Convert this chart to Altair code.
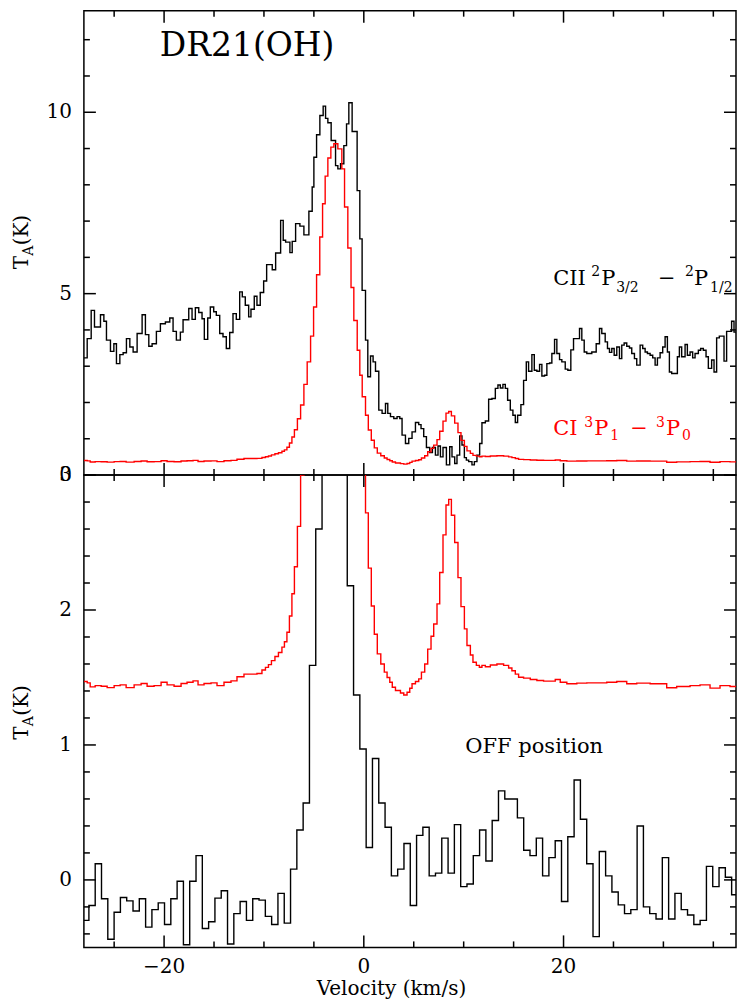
import altair as alt
import pandas as pd

# ---------------- data ----------------
# CII 2P3/2-2P1/2 spectrum (top panel, black): channel left edges (km/s) and T_A (K)
CII_V = [-28.03, -27.70, -27.30, -26.97, -26.37, -26.03, -25.77, -25.37, -25.03, -24.77,
         -24.43, -24.10, -23.77, -23.43, -23.10, -22.70, -22.20, -21.87, -21.53, -21.20,
         -20.77, -20.37, -19.87, -19.43, -19.10, -18.77, -18.37, -18.10, -17.53, -17.20,
         -16.87, -16.53, -16.20, -15.97, -15.63, -15.37, -15.03, -14.77, -14.43, -14.10,
         -13.77, -13.43, -13.10, -12.77, -12.43, -12.17, -11.87, -11.53, -11.30, -10.97,
         -10.70, -10.37, -10.03, -9.73, -9.17, -8.83, -8.33, -8.07, -7.83, -7.40,
         -7.17, -6.83, -6.40, -6.00, -5.50, -5.17, -5.00, -4.73, -4.40,
         -4.07, -3.83, -3.60, -3.27, -2.83, -2.60, -2.33, -2.00, -1.73, -1.50,
         -1.17, -0.67, -0.40, -0.17, 0.17, 0.40, 0.67, 0.93, 1.17, 1.50,
         1.83, 2.17, 2.40, 2.67, 3.00, 3.33, 3.60, 3.83, 4.17, 4.50,
         4.83, 5.17, 5.50, 5.73, 6.00, 6.27, 6.60, 6.87, 7.17, 7.43,
         7.67, 7.93, 8.27, 8.60, 8.83, 9.10, 9.33, 9.60, 9.83, 10.07,
         10.27, 10.50, 10.83, 11.07, 11.33, 11.60, 11.83, 12.17, 12.50, 12.83,
         13.17, 13.43, 13.67, 13.93, 14.17, 14.40, 14.67, 14.93, 15.17, 15.40,
         15.73, 16.00, 16.27, 16.50, 16.83, 17.07, 17.33, 17.60, 17.83, 18.10,
         18.33, 18.60, 18.83, 19.10, 19.33, 19.60, 19.83, 20.17, 20.43, 20.73,
         21.00, 21.60, 21.83, 22.07, 22.33, 22.83, 23.27, 23.60, 23.83, 24.17,
         24.40, 24.60, 24.83, 25.07, 25.33, 25.60, 25.83, 26.07, 26.33, 26.60,
         26.83, 27.10, 27.33, 27.67, 27.93, 28.17, 28.40, 28.67, 28.93, 29.17,
         29.40, 29.67, 29.93, 30.17, 30.40, 30.60, 30.83, 31.40, 31.60, 31.83,
         32.17, 32.40, 32.67, 32.93, 33.17, 33.50, 33.73, 34.00, 34.27, 34.50,
         34.83, 35.07, 35.33, 35.60, 36.07, 36.33, 36.83, 37.07, 37.33]
CII_T = [3.23, 3.76, 4.54, 4.08, 4.42, 4.24, 3.72, 3.41, 3.62, 3.07,
         3.32, 3.37, 3.76, 3.53, 3.39, 3.90, 4.42, 3.87, 3.55, 3.62,
         3.96, 4.17, 4.22, 4.33, 3.96, 3.72, 3.94, 4.28, 4.59, 4.29,
         4.61, 4.48, 4.31, 3.74, 4.33, 4.63, 4.50, 4.40, 3.90, 3.81,
         3.49, 3.93, 4.45, 4.29, 5.05, 4.91, 4.68, 4.36, 4.57, 4.93,
         4.68, 5.03, 5.35, 5.80, 5.66, 6.12, 7.02, 6.47, 6.42, 6.13,
         6.44, 6.93, 6.86, 6.62, 7.27, 7.94, 8.76, 9.38, 9.91,
         10.17, 9.83, 9.71, 9.22, 8.53, 8.44, 8.58, 9.08, 9.68, 10.26,
         9.47, 7.84, 6.51, 5.09, 3.72, 2.71, 3.28, 3.12, 2.86, 1.79,
         1.70, 1.97, 1.70, 1.61, 1.56, 1.61, 1.56, 1.10, 0.87, 1.01,
         1.19, 1.45, 1.39, 1.28, 1.06, 0.76, 0.62, 0.76, 0.55, 0.80,
         0.50, 0.76, 0.28, 0.78, 0.50, 0.32, 0.55, 1.08, 0.83, 0.48,
         0.41, 0.37, 0.28, 0.37, 0.55, 0.87, 1.44, 1.49, 2.09, 2.11,
         2.39, 2.48, 2.40, 2.50, 2.39, 2.06, 1.79, 1.65, 1.45, 1.65,
         1.94, 2.61, 3.12, 2.86, 3.32, 2.89, 2.86, 3.05, 2.73, 2.75,
         3.07, 3.09, 3.35, 3.74, 3.35, 3.18, 3.12, 2.92, 2.89, 3.45,
         3.76, 4.04, 3.72, 3.39, 3.35, 3.39, 3.62, 4.04, 3.90, 3.67,
         3.49, 3.38, 3.49, 3.30, 3.53, 3.21, 3.58, 3.64, 3.55, 3.50,
         3.35, 3.21, 3.03, 3.58, 3.49, 3.39, 3.35, 3.30, 3.23, 3.03,
         3.23, 3.37, 3.53, 3.81, 3.39, 2.84, 2.80, 3.26, 3.53, 3.26,
         3.60, 3.30, 3.39, 3.23, 3.35, 3.44, 3.49, 3.44, 3.26, 2.94,
         3.17, 2.84, 3.78, 3.83, 3.14, 3.96, 4.24, 3.94, 3.90]

# CI 3P1-3P0 spectrum (red): channel left edges (km/s) and T_A (K) as in the top panel
RED_V = [-28.05, -27.7, -27.4, -26.9, -26.3, -25.7, -25.0, -24.4, -23.8, -23.0,
         -22.3, -21.7, -21.0, -20.3, -19.7, -19.0, -18.3, -17.7, -17.1, -16.6,
         -16.0, -15.3, -14.7, -14.0, -13.3, -12.7, -12.0, -11.3, -10.7, -10.2,
         -9.85, -9.55, -9.25, -8.9, -8.55, -8.2, -7.95, -7.7, -7.45, -7.2,
         -6.95, -6.65, -6.33, -6.0, -5.67, -5.33, -5.03, -4.73, -4.41, -4.13,
         -3.87, -3.6, -3.3, -3.0, -2.6, -2.2, -1.93, -1.6, -1.28, -1.0,
         -0.66, -0.4, -0.16, 0.17, 0.45, 0.75, 1.05, 1.35, 1.7, 2.05,
         2.33, 2.6, 2.85, 3.17, 3.67, 4.0, 4.33, 4.6, 4.83, 5.17,
         5.5, 5.77, 6.1, 6.4, 6.73, 7.0, 7.33, 7.6, 7.93, 8.23,
         8.5, 8.77, 9.1, 9.43, 9.73, 10.07, 10.33, 10.67, 10.93, 11.27,
         11.57, 11.83, 12.17, 12.67, 13.33, 14.0, 14.5, 14.83, 15.17, 15.5,
         16.0, 16.67, 17.33, 18.0, 19.17, 19.67, 20.33, 21.33, 22.33, 24.33,
         25.33, 26.33, 27.33, 28.67, 30.33, 31.33, 32.67, 33.67, 34.67, 35.67,
         36.67]
RED_T = [0.40, 0.39, 0.36, 0.37, 0.365, 0.355, 0.37, 0.375, 0.355, 0.375,
         0.385, 0.365, 0.37, 0.395, 0.375, 0.365, 0.385, 0.395, 0.405, 0.375,
         0.385, 0.39, 0.37, 0.395, 0.405, 0.435, 0.455, 0.455, 0.46, 0.485,
         0.505, 0.525, 0.555, 0.585, 0.615, 0.655, 0.695, 0.765, 0.885, 1.05,
         1.25, 1.55, 1.93, 2.50, 3.12, 3.83, 4.63, 5.52, 6.56, 7.48,
         8.24, 8.74, 9.04, 9.13, 8.99, 8.44, 7.39, 6.26, 5.17, 4.26,
         3.44, 2.75, 2.16, 1.65, 1.24, 0.96, 0.75, 0.605, 0.53, 0.47,
         0.43, 0.395, 0.358, 0.333, 0.315, 0.30, 0.32, 0.35, 0.383, 0.40,
         0.42, 0.47, 0.53, 0.64, 0.735, 0.826, 0.975, 1.208, 1.487, 1.708,
         1.75, 1.632, 1.43, 1.17, 0.955, 0.79, 0.667, 0.597, 0.543, 0.52,
         0.506, 0.52, 0.51, 0.523, 0.53, 0.52, 0.50, 0.48, 0.455, 0.432,
         0.425, 0.415, 0.408, 0.403, 0.415, 0.395, 0.383, 0.388, 0.39, 0.395,
         0.40, 0.383, 0.388, 0.383, 0.354, 0.363, 0.37, 0.375, 0.351, 0.37,
         0.363]
CI_OFFSET = 1.07   # vertical offset of the CI copy drawn in the lower panel

# OFF position spectrum (bottom panel, black): uniform channels
OFF_V0 = -28.16
OFF_DV = 0.631
OFF_T = [-0.30, -0.19, 0.12, -0.14, -0.44, -0.24, -0.13, -0.155, -0.23, -0.14,
         -0.35, -0.22, -0.17, -0.33, -0.14, -0.01, -0.48, -0.01, 0.18, -0.36,
         -0.31, -0.135, -0.08, -0.475, -0.25, -0.16, -0.30, -0.14, -0.15, -0.27,
         -0.33, -0.10, -0.32, 0.08, 0.37, 0.57, 1.59, 2.60, 3.6, 4.3,
         4.5, 3.7, 2.18, 1.37, 0.97, 0.24, 0.90, 0.57, 0.39, 0.03,
         0.08, 0.27, -0.19, 0.33, 0.39, 0.03, 0.05, 0.31, 0.05, 0.41,
         -0.05, -0.03, 0.18, 0.37, 0.14, 0.44, 0.66, 0.60, 0.60, 0.46,
         0.22, 0.18, 0.31, 0.03, 0.165, 0.29, -0.16, 0.32, 0.74, 0.45,
         0.12, -0.42, 0.21, 0.03, -0.09, -0.185, -0.25, -0.22, 0.40, -0.20,
         -0.25, -0.29, 0.165, -0.29, -0.10, -0.22, -0.26, -0.33, -0.30, 0.10,
         -0.05, 0.09, 0.02, -0.11, 0.09]

# axes / ticks
X_DOMAIN = [-28.03, 37.27]
X_MAJOR = [-20, 0, 20]
X_MINOR = [-25, -15, -10, -5, 5, 10, 15, 25, 30, 35]
TOP_DOMAIN = [0, 12.8]
TOP_MAJOR = [0, 5, 10]
TOP_MINOR = [1, 2, 3, 4, 6, 7, 8, 9, 11, 12]
BOT_DOMAIN = [-0.5, 3.0]
BOT_MAJOR = [0, 1, 2, 3]
BOT_MINOR = [-0.4, -0.2, 0.2, 0.4, 0.6, 0.8, 1.2, 1.4, 1.6, 1.8, 2.2, 2.4, 2.6, 2.8]

# ---------------- layout / style ----------------
W = 653
H_TOP = 465
H_BOT = 473
FONT = "DejaVu Serif"
BLACK = "#000000"
RED = "#ff0000"
LW = 1.4
MAJ = 12
MIN = 6
LABEL_SIZE = 20


def step_table(v, t, v_end):
    return pd.DataFrame({"v": list(v) + [v_end], "T": list(t) + [t[-1]]})


def fmt(x):
    s = ("%g" % abs(x))
    return ("\u2212" + s) if x < 0 else s


cii_df = step_table(CII_V, CII_T, 38.2)
red_df = step_table(RED_V, RED_T, 38.2)
red_low_df = red_df.assign(T=red_df["T"] + CI_OFFSET)
off_v = [OFF_V0 + i * OFF_DV for i in range(len(OFF_T))]
off_df = step_table(off_v, OFF_T, off_v[-1] + OFF_DV)

xscale = alt.Scale(domain=X_DOMAIN, nice=False, zero=False)
ONE = pd.DataFrame({"k": [0]})


def spectrum(df, color, yscale):
    return alt.Chart(df).mark_line(
        interpolate="step-after", color=color, strokeWidth=LW, clip=True
    ).encode(
        x=alt.X("v:Q", scale=xscale, axis=None),
        y=alt.Y("T:Q", scale=yscale, axis=None),
    )


def xticks(values, length, h):
    base = alt.Chart(pd.DataFrame({"t": values})).mark_rule(color=BLACK, strokeWidth=1.5)
    xenc = alt.X("t:Q", scale=xscale, axis=None)
    return [base.encode(x=xenc, y=alt.value(h), y2=alt.value(h - length)),
            base.encode(x=xenc, y=alt.value(0), y2=alt.value(length))]


def yticks(values, length, yscale):
    base = alt.Chart(pd.DataFrame({"t": values})).mark_rule(color=BLACK, strokeWidth=1.5)
    yenc = alt.Y("t:Q", scale=yscale, axis=None)
    return [base.encode(y=yenc, x=alt.value(0), x2=alt.value(length)),
            base.encode(y=yenc, x=alt.value(W), x2=alt.value(W - length))]


def ylabels(values, yscale):
    df = pd.DataFrame({"t": values, "lab": [fmt(v) for v in values]})
    return alt.Chart(df).mark_text(
        font=FONT, fontSize=LABEL_SIZE, color=BLACK, align="right", baseline="middle"
    ).encode(y=alt.Y("t:Q", scale=yscale, axis=None), x=alt.value(-12), text="lab:N")


def xlabels(values, ypos):
    df = pd.DataFrame({"t": values, "lab": [fmt(v) for v in values]})
    return alt.Chart(df).mark_text(
        font=FONT, fontSize=LABEL_SIZE, color=BLACK, align="center", baseline="alphabetic"
    ).encode(x=alt.X("t:Q", scale=xscale, axis=None), y=alt.value(ypos), text="lab:N")


def txt(s, x, y, size, color=BLACK, angle=0, align="left"):
    return alt.Chart(ONE).mark_text(
        text=s, font=FONT, fontSize=size, color=color, align=align,
        baseline="alphabetic", angle=angle
    ).encode(x=alt.value(x), y=alt.value(y))


def ytitle(y0):
    # rotated "T_A(K)" built from pieces (bottom-to-top)
    return [txt("T", -55.5, y0, 20, angle=270),
            txt("A", -50.5, y0 - 13.5, 14, angle=270),
            txt("(K)", -55.5, y0 - 24, 20, angle=270)]


top_y = alt.Scale(domain=TOP_DOMAIN, nice=False, zero=False)
bot_y = alt.Scale(domain=BOT_DOMAIN, nice=False, zero=False)

anchor = alt.Chart(ONE).mark_rule(strokeOpacity=0).encode(
    x=alt.value(-75), x2=alt.value(-75), y=alt.value(0), y2=alt.value(10))

top_layers = [
    spectrum(cii_df, BLACK, top_y),
    spectrum(red_df, RED, top_y),
    *xticks(X_MAJOR, MAJ, H_TOP), *xticks(X_MINOR, MIN, H_TOP),
    *yticks(TOP_MAJOR, MAJ, top_y), *yticks(TOP_MINOR, MIN, top_y),
    ylabels(TOP_MAJOR, top_y),
    txt("DR21(OH)", 76, 45, 33),
    # CII 2P3/2 - 2P1/2
    txt("CII", 470, 275, 21), txt("2", 508, 266, 14), txt("P", 518, 275, 21),
    txt("3/2", 533, 282, 14), txt("\u2212", 575, 275, 21), txt("2", 602, 266, 14),
    txt("P", 611, 275, 21), txt("1/2", 627, 282, 14),
    # CI 3P1 - 3P0
    txt("CI", 470, 425, 21, RED), txt("3", 501, 417, 14, RED), txt("P", 511, 425, 21, RED),
    txt("1", 527, 430, 14, RED), txt("\u2212", 547, 425, 21, RED), txt("3", 573, 417, 14, RED),
    txt("P", 583, 425, 21, RED), txt("0", 599, 430, 14, RED),
    *ytitle(259),
    anchor,
]

bot_layers = [
    spectrum(off_df, BLACK, bot_y),
    spectrum(red_low_df, RED, bot_y),
    *xticks(X_MAJOR, MAJ, H_BOT), *xticks(X_MINOR, MIN, H_BOT),
    *yticks(BOT_MAJOR, MAJ, bot_y), *yticks(BOT_MINOR, MIN, bot_y),
    ylabels(BOT_MAJOR, bot_y),
    xlabels(X_MAJOR, H_BOT + 26),
    txt("Velocity (km/s)", 308, H_BOT + 48, 20, align="center"),
    txt("OFF position", 382, 278, 21),
    *ytitle(265),
]

top = alt.layer(*top_layers).properties(width=W, height=H_TOP)
bottom = alt.layer(*bot_layers).properties(width=W, height=H_BOT)

chart = alt.vconcat(top, bottom, spacing=0, bounds="flush", padding=0,
                    background="white").configure_view(stroke=BLACK, strokeWidth=1.5)

chart.save("out.html", embed_options={"renderer": "svg", "actions": False})
